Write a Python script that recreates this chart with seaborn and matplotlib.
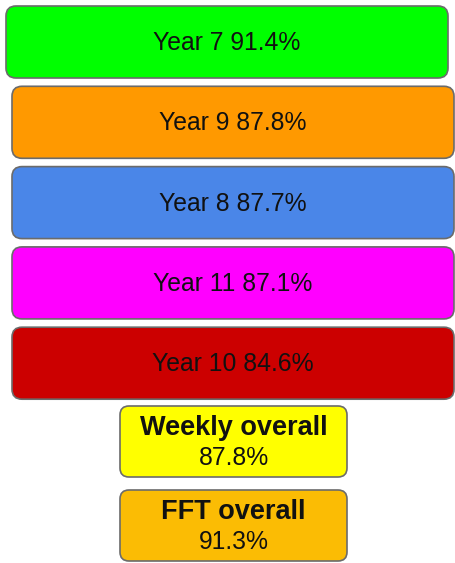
import matplotlib
matplotlib.use("Agg")
import matplotlib.pyplot as plt
import seaborn as sns
from matplotlib.patches import FancyBboxPatch

# data
years = ["Year 7", "Year 9", "Year 8", "Year 11", "Year 10"]
year_pct = [91.4, 87.8, 87.7, 87.1, 84.6]
year_colors = ["#00ff00", "#ff9900", "#4a86e8", "#ff00ff", "#cc0000"]

overall_labels = ["Weekly overall", "FFT overall"]
overall_pct = [87.8, 91.3]
overall_colors = ["#ffff00", "#fbbc04"]

sns.set_style("white")
plt.rcParams["font.family"] = ["Liberation Sans", "DejaVu Sans"]

W, H = 455, 563
fig = plt.figure(figsize=(W / 100, H / 100), dpi=100)
ax = fig.add_axes([0, 0, 1, 1])
ax.set_xlim(0, W)
ax.set_ylim(H, 0)
ax.axis("off")

edge = "#6b6b6b"

# year boxes
for i, (name, p, c) in enumerate(zip(years, year_pct, year_colors)):
    left = 6 if i == 0 else 12
    top = 6 + i * 80.3
    box = FancyBboxPatch((left, top), 442, 72,
                         boxstyle="round,pad=0,rounding_size=10",
                         facecolor=c, edgecolor=edge, linewidth=1.2)
    ax.add_patch(box)
    ax.text(left + 221, top + 37, f"{name} {p}%", ha="center", va="center",
            fontsize=17.8, color="#111111")

# overall boxes
tops = [406, 490]
for top, name, p, c in zip(tops, overall_labels, overall_pct, overall_colors):
    box = FancyBboxPatch((120, top), 227, 71,
                         boxstyle="round,pad=0,rounding_size=9",
                         facecolor=c, edgecolor=edge, linewidth=1.2)
    ax.add_patch(box)
    ax.text(233.5, top + 22, name, ha="center", va="center",
            fontsize=19.5, fontweight="bold", color="#111111")
    ax.text(233.5, top + 52, f"{p}%", ha="center", va="center",
            fontsize=17.8, color="#111111")

fig.savefig("out.png", dpi=100)
